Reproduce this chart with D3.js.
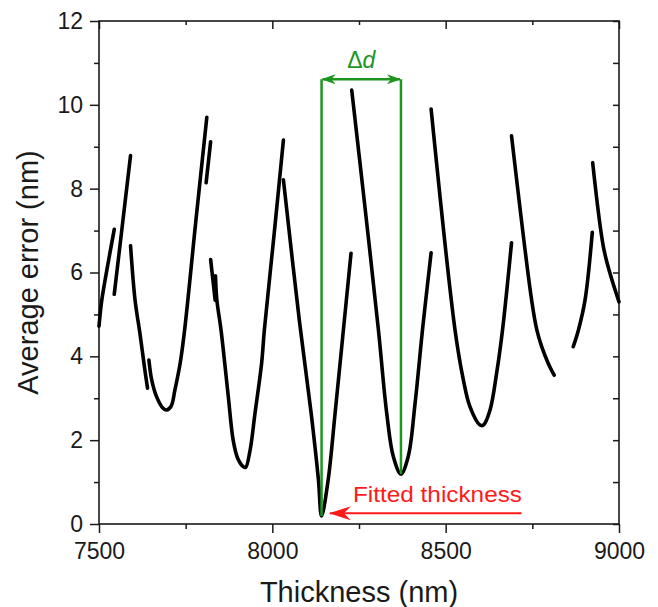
<!DOCTYPE html>
<html>
<head>
<meta charset="utf-8">
<script src="https://cdn.jsdelivr.net/npm/d3@7/dist/d3.min.js"></script>
<style>
  body { margin: 0; background: #fff; }
  svg { display: block; font-family: "Liberation Sans", Arial, sans-serif; }
</style>
</head>
<body>
<script>
'use strict';

// branches of the error curve, [thickness (nm), average error (nm)]
let branchA = [[7500, 4.72], [7503, 4.98], [7508, 5.34], [7544, 7.03]];
let branchB = [[7544, 5.48], [7567, 7.1], [7591, 8.79]];
let branchC = [[7591, 6.64], [7604, 5.34], [7618, 4.55], [7631, 3.75], [7640, 3.24]];
let branchD = [[7644, 3.91], [7652, 3.44], [7666, 3.04], [7685, 2.76], [7695, 2.72], [7708, 2.81],
  [7719, 3.2], [7734, 3.83], [7747, 4.63], [7779, 7.2], [7811, 9.70]];
let branchE = [[7809, 8.14], [7822, 9.12]];
let branchF = [[7822, 6.31], [7835, 5.34]];
let branchG = [[7836, 5.92], [7840, 5.34], [7852, 4.63], [7873, 3.04], [7887, 2.0], [7900, 1.57],
  [7916, 1.37], [7923, 1.35], [7936, 1.77], [7950, 2.64], [7969, 3.83], [7977, 4.63], [8005, 6.9], [8032, 9.16]];
let branchH = [[8032, 8.21], [8078, 4.85], [8112, 2.64], [8133, 1.05], [8142, 0.19],
  [8161, 1.05], [8181, 2.64], [8205, 4.63], [8227, 6.46]];
let branchI = [[8229, 10.35], [8268, 7.5], [8306, 4.63], [8330, 2.64], [8349, 1.61], [8371, 1.19],
  [8392, 1.61], [8412, 2.9], [8434, 4.7], [8458, 6.47]];
let branchJ = [[8458, 9.90], [8527, 4.63], [8551, 3.44], [8570, 2.80], [8599, 2.36], [8609, 2.36],
  [8628, 2.72], [8647, 3.6], [8664, 4.63], [8690, 6.71]];
let branchK = [[8690, 9.26], [8748, 5.34], [8763, 4.63], [8777, 4.23], [8796, 3.83], [8813, 3.55]];
let branchL = [[8868, 4.23], [8883, 4.63], [8902, 5.34], [8923, 6.96]];
let branchM = [[8924, 8.62], [8955, 6.61], [8974, 5.98], [9000, 5.30]];

let branches = [branchA, branchB, branchC, branchD, branchE, branchF, branchG,
  branchH, branchI, branchJ, branchK, branchL, branchM];

// axis ticks
let xTicks = [7500, 8000, 8500, 9000];
let xMinorTicks = [7750, 8250, 8750];
let yTicks = [0, 2, 4, 6, 8, 10, 12];
let yMinorTicks = [1, 3, 5, 7, 9, 11];

// annotations
let fittedMin = [8142, 0.19];     // fitted thickness minimum
let nextMin = [8371, 1.19];       // neighbouring minimum
let deltaLevel = 10.61;           // height of the delta d arrow
let fittedArrowX = [8719, 8166];  // red arrow, tail -> tip
let fittedArrowY = 0.255;

(function () {

  let svg = "";
  let x = "";
  let y = "";

  window.onload = function () {
    svg = d3.select('body')
      .append('svg')
      .attr('width', 658)
      .attr('height', 607);

    x = d3.scaleLinear().domain([7500, 9000]).range([99, 619]);
    y = d3.scaleLinear().domain([0, 12]).range([524, 21]);

    makeMarkers();
    drawAxes();
    plotCurve();
    drawAnnotations();
    makeLabels();
  }

  function makeMarkers() {
    let defs = svg.append('defs');

    defs.append('marker')
      .attr('id', 'greenHead')
      .attr('viewBox', '0 0 14 10')
      .attr('refX', 13)
      .attr('refY', 5)
      .attr('markerUnits', 'userSpaceOnUse')
      .attr('markerWidth', 14)
      .attr('markerHeight', 10)
      .attr('orient', 'auto-start-reverse')
      .append('path')
      .attr('d', 'M0,0 L14,5 L0,10 L4,5 Z')
      .attr('fill', '#1e961e');

    defs.append('marker')
      .attr('id', 'redHead')
      .attr('viewBox', '0 0 22 14')
      .attr('refX', 21)
      .attr('refY', 7)
      .attr('markerUnits', 'userSpaceOnUse')
      .attr('markerWidth', 22)
      .attr('markerHeight', 14)
      .attr('orient', 'auto')
      .append('path')
      .attr('d', 'M0,0 L22,7 L0,14 L7,7 Z')
      .attr('fill', '#ff1a1a');
  }

  function styleAxis(g, size) {
    g.select('.domain').remove();
    g.selectAll('line').attr('stroke', '#1a1a1a').attr('stroke-width', 1.5);
    g.selectAll('text')
      .attr('fill', '#1a1a1a')
      .style('font-size', size);
  }

  // draw the axes and ticks
  function drawAxes() {
    // bottom, ticks outward
    svg.append('g')
      .attr('transform', 'translate(0, 524)')
      .call(d3.axisBottom(x).tickValues(xTicks).tickSizeInner(9).tickSizeOuter(0).tickPadding(10).tickFormat(d3.format('d')))
      .call(styleAxis, '23px');
    svg.append('g')
      .attr('transform', 'translate(0, 524)')
      .call(d3.axisBottom(x).tickValues(xMinorTicks).tickSizeInner(5).tickSizeOuter(0).tickFormat(''))
      .call(styleAxis, '23px');

    // top, ticks inward
    svg.append('g')
      .attr('transform', 'translate(0, 21)')
      .call(d3.axisBottom(x).tickValues(xTicks).tickSizeInner(8).tickSizeOuter(0).tickFormat(''))
      .call(styleAxis, '23px');
    svg.append('g')
      .attr('transform', 'translate(0, 21)')
      .call(d3.axisBottom(x).tickValues(xMinorTicks).tickSizeInner(4).tickSizeOuter(0).tickFormat(''))
      .call(styleAxis, '23px');

    // left, ticks outward
    svg.append('g')
      .attr('transform', 'translate(99, 0)')
      .call(d3.axisLeft(y).tickValues(yTicks).tickSizeInner(9).tickSizeOuter(0).tickPadding(7))
      .call(styleAxis, '23px');
    svg.append('g')
      .attr('transform', 'translate(99, 0)')
      .call(d3.axisLeft(y).tickValues(yMinorTicks).tickSizeInner(5).tickSizeOuter(0).tickFormat(''))
      .call(styleAxis, '23px');

    // right, ticks inward
    svg.append('g')
      .attr('transform', 'translate(619, 0)')
      .call(d3.axisLeft(y).tickValues(yTicks.concat(yMinorTicks)).tickSizeInner(6).tickSizeOuter(0).tickFormat(''))
      .call(styleAxis, '23px');

    // frame
    svg.append('rect')
      .attr('x', x(7500))
      .attr('y', y(12))
      .attr('width', x(9000) - x(7500))
      .attr('height', y(0) - y(12))
      .attr('fill', 'none')
      .attr('stroke', '#1a1a1a')
      .attr('stroke-width', 1.6);
  }

  // plot each branch of the curve as a thick line
  function plotCurve() {
    let line = d3.line()
      .x((d) => x(d[0]))
      .y((d) => y(d[1]))
      .curve(d3.curveCatmullRom.alpha(0.5));

    svg.selectAll('.branch')
      .data(branches)
      .enter()
      .append('path')
      .attr('class', 'branch')
      .attr('d', line)
      .attr('fill', 'none')
      .attr('stroke', '#000')
      .attr('stroke-width', 3.6)
      .attr('stroke-linejoin', 'round')
      .attr('stroke-linecap', 'round');
  }

  function drawAnnotations() {
    let green = '#1e961e';

    // vertical lines up from the two minima
    svg.append('line')
      .attr('x1', x(fittedMin[0])).attr('x2', x(fittedMin[0]))
      .attr('y1', y(fittedMin[1])).attr('y2', y(deltaLevel))
      .attr('stroke', green).attr('stroke-width', 2.5);
    svg.append('line')
      .attr('x1', x(nextMin[0])).attr('x2', x(nextMin[0]))
      .attr('y1', y(nextMin[1])).attr('y2', y(deltaLevel))
      .attr('stroke', green).attr('stroke-width', 2.5);

    // double arrow
    svg.append('line')
      .attr('x1', x(fittedMin[0]) + 1).attr('x2', x(nextMin[0]) - 1)
      .attr('y1', y(deltaLevel)).attr('y2', y(deltaLevel))
      .attr('stroke', green).attr('stroke-width', 2.5)
      .attr('marker-start', 'url(#greenHead)')
      .attr('marker-end', 'url(#greenHead)');

    let label = svg.append('text')
      .attr('x', (x(fittedMin[0]) + x(nextMin[0])) / 2)
      .attr('y', 68)
      .attr('text-anchor', 'middle')
      .attr('fill', green)
      .style('font-size', '23px');
    label.append('tspan').text('\u0394');
    label.append('tspan').style('font-style', 'italic').text('d');

    // red arrow pointing at fitted thickness
    svg.append('line')
      .attr('x1', x(fittedArrowX[0])).attr('x2', x(fittedArrowX[1]))
      .attr('y1', y(fittedArrowY)).attr('y2', y(fittedArrowY))
      .attr('stroke', '#ff1a1a').attr('stroke-width', 2)
      .attr('marker-end', 'url(#redHead)');

    svg.append('text')
      .attr('x', 353)
      .attr('y', 502)
      .attr('fill', '#ff1a1a')
      .attr('textLength', 169)
      .attr('lengthAdjust', 'spacingAndGlyphs')
      .style('font-size', '22px')
      .text('Fitted thickness');
  }

  // axes titles
  function makeLabels() {
    svg.append('text')
      .attr('x', (x(7500) + x(9000)) / 2)
      .attr('y', 602)
      .attr('text-anchor', 'middle')
      .attr('fill', '#1a1a1a')
      .style('font-size', '29px')
      .text('Thickness (nm)');

    svg.append('text')
      .attr('transform', 'translate(38, ' + ((y(0) + y(12)) / 2) + ')rotate(-90)')
      .attr('text-anchor', 'middle')
      .attr('fill', '#1a1a1a')
      .style('font-size', '29px')
      .text('Average error (nm)');
  }

})();
</script>
</body>
</html>
